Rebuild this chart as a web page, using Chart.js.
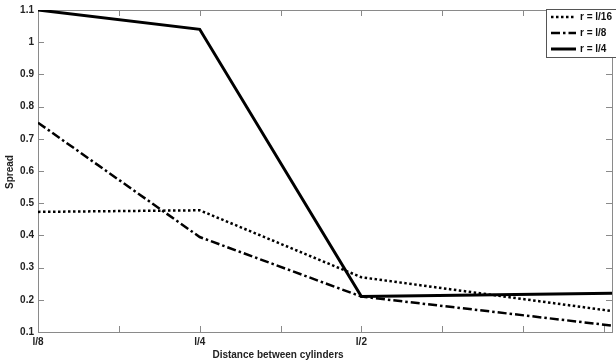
<!DOCTYPE html>
<html>
<head>
<meta charset="utf-8">
<script src="https://cdn.jsdelivr.net/npm/chart.js@4.4.1/dist/chart.umd.min.js"></script>
<style>
html, body { margin: 0; padding: 0; background: #fff; }
#wrap { width: 616px; height: 363px; }
</style>
</head>
<body>
<div id="wrap"><canvas id="spreadChart"></canvas></div>
<script>
// positions on the x axis (l/8, l/4, l/2, right edge)
const xPos = [1, 2, 3, 4.55];
const xTickLabels = { 1: "l/8", 2: "l/4", 3: "l/2" };
const seriesNames = ["r = l/16", "r = l/8", "r = l/4"];
const spreadL16 = [0.473, 0.478, 0.27, 0.165];
const spreadL8 = [0.75, 0.395, 0.21, 0.12];
const spreadL4 = [1.1, 1.04, 0.21, 0.22];

const dashes = [[2.5, 2.5], [9, 3, 2.5, 3], []];
const widths = [2.5, 2.5, 3];
const font = { family: "'Liberation Sans', Arial, sans-serif", size: 10, weight: "bold" };

function toPoints(vals) {
    return vals.map((v, i) => ({ x: xPos[i], y: v }));
}

// axes box with inward ticks, like matlab
const frame = {
    id: "frame",
    beforeDatasetsDraw(chart) {
        const { ctx, chartArea: a, scales: { x, y } } = chart;
        ctx.save();
        ctx.strokeStyle = "#8a8a8a";
        ctx.lineWidth = 1;
        ctx.strokeRect(a.left + 0.5, a.top + 0.5, a.right - a.left, a.bottom - a.top);
        for (let v = 1; v <= 4.51; v += 0.5) {
            const px = Math.round(x.getPixelForValue(v)) + 0.5;
            ctx.beginPath();
            ctx.moveTo(px, a.bottom); ctx.lineTo(px, a.bottom - 6);
            ctx.moveTo(px, a.top); ctx.lineTo(px, a.top + 6);
            ctx.stroke();
        }
        for (let v = 1; v <= 11; v++) {
            const py = Math.round(y.getPixelForValue(v / 10)) + 0.5;
            ctx.beginPath();
            ctx.moveTo(a.left, py); ctx.lineTo(a.left + 6, py);
            ctx.moveTo(a.right, py); ctx.lineTo(a.right - 6, py);
            ctx.stroke();
        }
        ctx.restore();
    },
    afterDraw(chart) {
        const ctx = chart.ctx;
        ctx.save();
        ctx.fillStyle = "#222";
        ctx.font = "bold 10px 'Liberation Sans', Arial, sans-serif";
        ctx.textAlign = "center";
        ctx.textBaseline = "middle";
        ctx.fillText("Distance between cylinders", 278, 355);
        ctx.translate(10, 172);
        ctx.rotate(-Math.PI / 2);
        ctx.fillText("Spread", 0, 0);
        ctx.restore();

        // legend box
        ctx.save();
        ctx.fillStyle = "#fff";
        ctx.fillRect(546, 9, 72, 48);
        ctx.strokeStyle = "#555";
        ctx.lineWidth = 1;
        ctx.strokeRect(546.5, 9.5, 72, 48);
        chart.data.datasets.forEach((ds, i) => {
            const ly = 17 + i * 16;
            ctx.beginPath();
            ctx.setLineDash(dashes[i]);
            ctx.lineWidth = widths[i];
            ctx.strokeStyle = "#000";
            ctx.moveTo(551, ly); ctx.lineTo(576, ly);
            ctx.stroke();
            ctx.setLineDash([]);
            ctx.fillStyle = "#111";
            ctx.font = "bold 10px 'Liberation Sans', Arial, sans-serif";
            ctx.textBaseline = "middle";
            ctx.fillText(ds.label, 580, ly);
        });
        ctx.restore();
    }
};

new Chart(document.getElementById("spreadChart"), {
    type: "line",
    data: {
        datasets: [
            { label: seriesNames[0], data: toPoints(spreadL16) },
            { label: seriesNames[1], data: toPoints(spreadL8) },
            { label: seriesNames[2], data: toPoints(spreadL4) }
        ].map((d, i) => Object.assign(d, {
            borderColor: "#000",
            borderWidth: widths[i],
            borderDash: dashes[i],
            pointRadius: 0,
            tension: 0,
            fill: false
        }))
    },
    options: {
        responsive: true,
        maintainAspectRatio: false,
        animation: false,
        layout: { padding: { top: 3, right: 0, left: 0, bottom: 0 } },
        scales: {
            x: {
                type: "linear",
                min: 1,
                max: 4.55,
                grid: { display: false, drawTicks: false },
                border: { display: false },
                afterFit: s => { s.height = 31; },
                ticks: {
                    stepSize: 0.5,
                    autoSkip: false,
                    maxRotation: 0,
                    padding: 4,
                    color: "#222",
                    font: font,
                    callback: v => xTickLabels[v] || ""
                }
            },
            y: {
                min: 0.1,
                max: 1.1,
                grid: { display: false, drawTicks: false },
                border: { display: false },
                afterFit: s => { s.width = 38; },
                ticks: {
                    stepSize: 0.1,
                    padding: 4,
                    color: "#222",
                    font: font,
                    callback: v => String(+v.toFixed(1))
                }
            }
        },
        plugins: {
            legend: { display: false },
            tooltip: { enabled: false }
        }
    },
    plugins: [frame]
});
</script>
</body>
</html>
